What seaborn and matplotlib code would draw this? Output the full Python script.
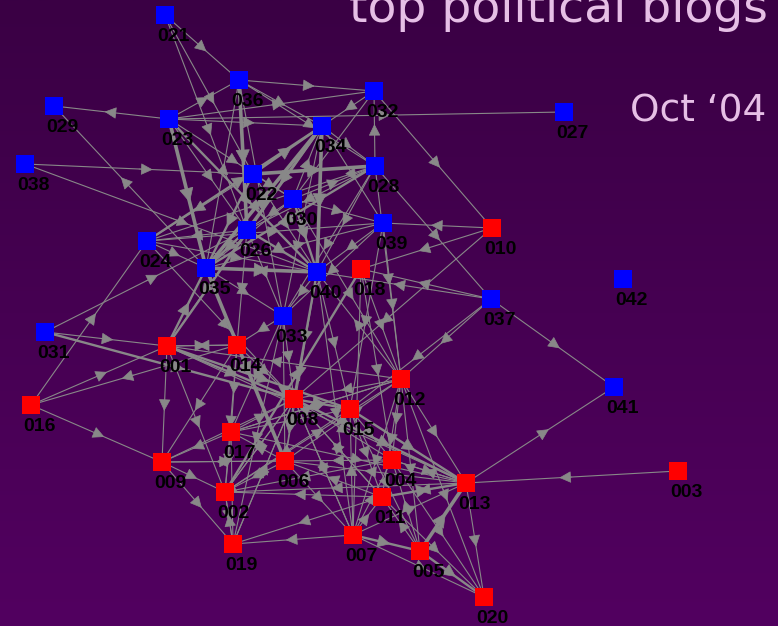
import numpy as np
import pandas as pd
import matplotlib
matplotlib.use('Agg')
import matplotlib.pyplot as plt
from matplotlib.colors import LinearSegmentedColormap
import seaborn as sns

# node layout (pixel space, y down)
node_ids = ['021', '036', '032', '029', '023', '027', '034', '038', '022', '028',
            '030', '026', '039', '010', '024', '035', '040', '018', '042', '037',
            '033', '031', '001', '014', '012', '041', '016', '008', '015', '017',
            '009', '006', '004', '013', '003', '002', '011', '007', '005', '019', '020']
node_x = [165, 239, 374, 54, 169, 564, 322, 25, 253, 375,
          293, 247, 383, 492, 147, 206, 317, 361, 623, 491,
          283, 45, 167, 237, 401, 614, 31, 294, 350, 231,
          162, 285, 392, 466, 678, 225, 382, 353, 420, 233, 484]
node_y = [15, 80, 91, 106, 119, 112, 126, 164, 174, 166,
          199, 230, 223, 228, 241, 268, 272, 269, 279, 299,
          316, 332, 346, 345, 379, 387, 405, 399, 409, 432,
          462, 461, 460, 483, 471, 492, 497, 535, 551, 544, 597]
party = ['blue', 'blue', 'blue', 'blue', 'blue', 'blue', 'blue', 'blue', 'blue', 'blue',
         'blue', 'blue', 'blue', 'red', 'blue', 'blue', 'blue', 'red', 'blue', 'blue',
         'blue', 'blue', 'red', 'red', 'red', 'blue', 'red', 'red', 'red', 'red',
         'red', 'red', 'red', 'red', 'red', 'red', 'red', 'red', 'red', 'red', 'red']

# directed links (source, target, weight)
edges = [
    ('021', '036', 1), ('021', '022', 1), ('021', '026', 1),
    ('023', '029', 1), ('023', '036', 1), ('023', '032', 1), ('023', '034', 1), ('023', '027', 1),
    ('023', '035', 3), ('023', '040', 2), ('023', '026', 1), ('023', '030', 1),
    ('035', '029', 1), ('038', '022', 1), ('038', '040', 1),
    ('036', '026', 3), ('036', '034', 1), ('036', '028', 1), ('036', '033', 1), ('035', '036', 1),
    ('036', '032', 1), ('032', '034', 1), ('032', '010', 1), ('032', '030', 1), ('028', '032', 1),
    ('034', '035', 3), ('034', '040', 3), ('034', '026', 2), ('024', '034', 2), ('034', '028', 1),
    ('034', '039', 1), ('022', '034', 2), ('034', '033', 1), ('030', '034', 1),
    ('022', '028', 3), ('022', '035', 2), ('022', '040', 1), ('022', '024', 1), ('022', '030', 1),
    ('028', '035', 2), ('028', '037', 1), ('028', '024', 1), ('028', '026', 1), ('028', '040', 1),
    ('028', '033', 1), ('030', '028', 1), ('030', '040', 2), ('030', '035', 1), ('030', '026', 1),
    ('030', '039', 1), ('026', '040', 2), ('026', '024', 1), ('026', '035', 2), ('026', '033', 1),
    ('024', '035', 1), ('024', '040', 1), ('024', '039', 1), ('035', '040', 3), ('035', '033', 1),
    ('035', '039', 1), ('039', '040', 1), ('039', '033', 1), ('040', '033', 1),
    ('031', '026', 1), ('016', '024', 1), ('010', '018', 1), ('010', '039', 1), ('010', '008', 1),
    ('037', '040', 1), ('037', '018', 1), ('037', '012', 1), ('037', '041', 1), ('037', '015', 1),
    ('013', '041', 1), ('003', '013', 1), ('031', '001', 1), ('031', '008', 2),
    ('016', '001', 1), ('014', '016', 1), ('016', '009', 1),
    ('035', '006', 3), ('001', '035', 2), ('001', '034', 2), ('002', '018', 2),
    ('012', '040', 1), ('040', '015', 1), ('040', '008', 2), ('040', '006', 1), ('040', '007', 1),
    ('039', '015', 1), ('039', '012', 1), ('018', '012', 1), ('018', '007', 1), ('018', '004', 1),
    ('033', '008', 1), ('033', '006', 1), ('033', '014', 1), ('033', '017', 1), ('033', '019', 1),
    ('026', '014', 1), ('026', '001', 1), ('024', '008', 1), ('030', '012', 1), ('028', '012', 1),
    ('001', '008', 2), ('001', '014', 1), ('014', '001', 1), ('001', '015', 2), ('001', '009', 1),
    ('001', '002', 1), ('014', '008', 1), ('014', '009', 1), ('014', '002', 1), ('014', '017', 1),
    ('008', '015', 2), ('012', '008', 1), ('008', '013', 2), ('008', '006', 1), ('008', '002', 1),
    ('008', '019', 1), ('008', '007', 1), ('008', '004', 1), ('008', '011', 1),
    ('015', '013', 2), ('015', '004', 1), ('015', '011', 1), ('007', '015', 1), ('015', '002', 1),
    ('015', '017', 1), ('015', '005', 1),
    ('012', '004', 1), ('012', '011', 1), ('012', '013', 1), ('012', '020', 1), ('012', '005', 1),
    ('012', '006', 1), ('012', '017', 1), ('012', '001', 1), ('012', '007', 1),
    ('004', '006', 1), ('004', '013', 1), ('013', '004', 1), ('004', '002', 1), ('004', '020', 1),
    ('005', '004', 1), ('011', '013', 2), ('013', '011', 1), ('011', '002', 1), ('011', '019', 1),
    ('011', '020', 1), ('011', '008', 1), ('011', '006', 1),
    ('007', '004', 1), ('007', '005', 2), ('007', '019', 1), ('007', '020', 1), ('007', '013', 1),
    ('007', '008', 1), ('006', '007', 1), ('007', '011', 1),
    ('005', '013', 3), ('005', '020', 2), ('005', '011', 1), ('013', '020', 1), ('013', '006', 1),
    ('013', '002', 1), ('013', '001', 1),
    ('006', '002', 1), ('006', '017', 1), ('006', '009', 1),
    ('017', '008', 1), ('017', '009', 1), ('017', '002', 1), ('017', '012', 1), ('017', '013', 1),
    ('009', '002', 1), ('009', '019', 1), ('009', '008', 1), ('009', '006', 1),
    ('002', '019', 1), ('019', '002', 1), ('002', '008', 1), ('002', '012', 1),
    ('019', '008', 1), ('019', '017', 1),
]

nodes = pd.DataFrame({'id': node_ids, 'x': node_x, 'y': node_y, 'party': party})
pos = nodes.set_index('id')[['x', 'y']]

W, H = 778, 626
fig = plt.figure(figsize=(W / 100, H / 100), dpi=100)
ax = fig.add_axes([0, 0, 1, 1])

bg = LinearSegmentedColormap.from_list('bg', ['#3a0044', '#520060'])
ax.imshow(np.linspace(0, 1, 256).reshape(-1, 1), extent=(0, W, H, 0), cmap=bg,
          aspect='auto', zorder=0)

edge_col = '#888888'
lw_map = {1: 0.8, 2: 1.7, 3: 2.6}
for s, t, w in edges:
    x0, y0 = pos.loc[s]
    x1, y1 = pos.loc[t]
    ax.plot([x0, x1], [y0, y1], color=edge_col, lw=lw_map[w], zorder=1, solid_capstyle='butt')
    # arrowhead roughly halfway along the link
    mx, my = x0 + 0.56 * (x1 - x0), y0 + 0.56 * (y1 - y0)
    bx, by = x0 + 0.5 * (x1 - x0), y0 + 0.5 * (y1 - y0)
    ax.annotate('', xy=(mx, my), xytext=(bx, by), zorder=1,
                arrowprops=dict(arrowstyle='-|>,head_length=0.5,head_width=0.25',
                                color=edge_col, lw=0.5,
                                mutation_scale=13 + 2 * w, shrinkA=0, shrinkB=0))

sns.scatterplot(data=nodes, x='x', y='y', hue='party',
                palette={'red': '#ff0000', 'blue': '#0000ff'},
                marker='s', s=150, linewidth=0, legend=False, ax=ax, zorder=3)
ax.set_xlim(0, W)
ax.set_ylim(H, 0)
ax.axis('off')

for nid, x, y in zip(node_ids, node_x, node_y):
    ax.text(x - 8, y + 26, nid, fontsize=14, fontweight='bold', color='black',
            family=['Liberation Sans', 'DejaVu Sans'], ha='left', va='baseline', zorder=4)

ax.text(768, 22, 'top political blogs', color='#e6bfe6', fontsize=34,
        family='DejaVu Sans', ha='right', va='baseline', zorder=5)
ax.text(766, 122, 'Oct \u201804', color='#e6bfe6', fontsize=27,
        family='DejaVu Sans', ha='right', va='baseline', zorder=5)

fig.savefig('out.png', dpi=100)
